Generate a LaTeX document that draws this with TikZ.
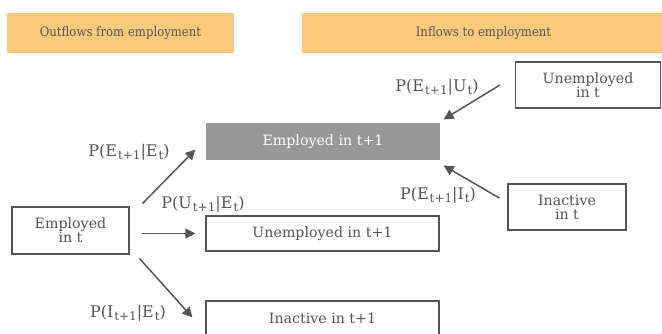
\documentclass[tikz,border=0pt]{standalone}
\usepackage{fontspec}
\setmainfont{DejaVu Serif}
\newfontfamily\headfont{DejaVu Serif Condensed}
\usepackage{xcolor}
\usetikzlibrary{arrows.meta, positioning}
\definecolor{flowgray}{RGB}{85,85,85}
\definecolor{headorange}{RGB}{253,201,122}
\definecolor{boxgray}{RGB}{152,152,152}
\newcommand{\sub}[1]{\kern1pt\raisebox{-0.35ex}{\fontsize{12}{12}\selectfont #1}}
\newcommand{\trans}[2]{P(#1\sub{t+1}|#2\sub{t})}

\begin{document}
\begin{tikzpicture}[x=1pt, y=-1pt,
    header/.style={fill=headorange, text=flowgray, minimum height=40pt, inner sep=0pt,
                   font=\headfont\fontsize{13}{14}\selectfont},
    block/.style={draw=flowgray, line width=1.2pt, text=flowgray, align=center,
                  inner sep=0pt, font=\fontsize{14.2}{14}\selectfont},
    flow/.style={-{Triangle[length=10pt, width=10pt]}, line width=1.5pt, draw=flowgray},
    lbl/.style={text=flowgray, inner sep=0pt, font=\fontsize{16}{16}\selectfont}
]
\useasboundingbox (0,0) rectangle (662,334);

% headers
\node[header, minimum width=227pt] (outhead) at (120.5,33) {Outflows from employment};
\node[header, minimum width=363pt] (inhead) at (483.5,33) {Inflows to employment};

% states at t+1
\node[block, fill=boxgray, draw=boxgray, text=white, minimum width=232pt, minimum height=35pt]
    (empnext) at (323,141.5) {Employed in t+1};
\node[block, minimum width=233pt, minimum height=35pt] (unempnext) at (322.5,233.5) {Unemployed in t+1};
\node[block, minimum width=233pt, minimum height=35pt] (inactnext) at (322.5,318.5) {Inactive in t+1};

% states at t
\node[block, minimum width=117pt, minimum height=47pt] (empnow) at (70.5,230.5) {Employed\\in t};
\node[block, minimum width=145pt, minimum height=46pt] (unempnow) at (588,85) {Unemployed\\in t};
\node[block, minimum width=118pt, minimum height=46pt] (inactnow) at (567,207) {Inactive\\in t};

% outflows
\draw[flow] ([xshift=13pt, yshift=3pt]empnow.north east) -- ([xshift=-11pt, yshift=10pt]empnext.south west);
\draw[flow] ([xshift=12pt]empnow.east |- unempnext.west) -- ([xshift=-10pt]unempnext.west);
\draw[flow] ([xshift=10pt, yshift=-4pt]empnow.south east) -- ([xshift=-13pt, yshift=-17pt]inactnext.north west);

% inflows
\draw[flow] ([xshift=-15pt]unempnow.west) -- ([xshift=4pt, yshift=4pt]empnext.north east);
\draw[flow] ([xshift=-8pt, yshift=9pt]inactnow.west) -- ([xshift=4pt, yshift=-6pt]empnext.south east);

% transition probabilities
\node[lbl] (pee) at (129,152) {\trans{E}{E}};
\node[lbl] (pue) at (203,204) {\trans{U}{E}};
\node[lbl] (pie) at (128,313) {\trans{I}{E}};
\node[lbl] (peu) at (437,87) {\trans{E}{U}};
\node[lbl] (pei) at (438,195) {\trans{E}{I}};
\end{tikzpicture}
\end{document}
